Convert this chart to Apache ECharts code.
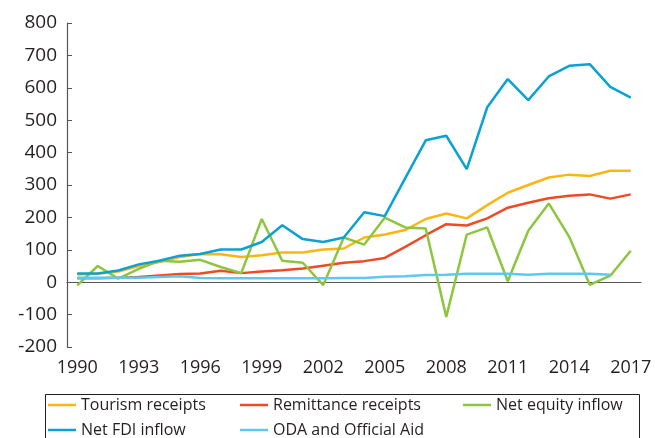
<!DOCTYPE html>
<html>
<head>
<meta charset="utf-8">
<script src="https://cdn.jsdelivr.net/npm/echarts@6/dist/echarts.min.js"></script>
<style>
html,body{margin:0;padding:0;background:#fff;}
#chart{width:655px;height:438px;}
</style>
</head>
<body>
<div id="chart"></div>
<script>
var years = ['1990','1991','1992','1993','1994','1995','1996','1997','1998','1999','2000','2001','2002','2003','2004','2005','2006','2007','2008','2009','2010','2011','2012','2013','2014','2015','2016','2017'];
var tourism = [24, 26, 33, 50, 62, 78, 87, 86, 78, 83, 92, 92, 101, 104, 138, 147, 161, 195, 212, 197, 238, 276, 300, 323, 332, 328, 344, 344];
var remittance = [12, 12, 14, 16, 21, 25, 27, 35, 28, 33, 37, 42, 51, 60, 65, 75, 109, 145, 179, 175, 197, 230, 245, 259, 267, 271, 258, 271];
var netEquity = [-10, 50, 11, 41, 66, 63, 69, 47, 28, 195, 66, 60, -9, 138, 116, 199, 169, 166, -107, 147, 169, 3, 159, 243, 140, -8, 20, 97];
var netFDI = [27, 27, 36, 55, 66, 82, 87, 101, 101, 124, 176, 133, 124, 138, 216, 204, 321, 438, 452, 349, 540, 627, 562, 635, 668, 673, 603, 570];
var oda = [14, 14, 14, 14, 16, 18, 13, 12, 12, 12, 12, 12, 12, 13, 13, 17, 18, 22, 23, 26, 26, 26, 23, 26, 26, 26, 23, null];
var yTicks = {min: -200, max: 800, interval: 100};

var names = ['Tourism receipts', 'Remittance receipts', 'Net equity inflow', 'Net FDI inflow', 'ODA and Official Aid'];
var colors = ['#fdb515', '#ef4a26', '#8cc63f', '#0aa2d2', '#5dc9f1'];
var datas = [tourism, remittance, netEquity, netFDI, oda];

var FONT = '"Open Sans"';
var TXT = '#231f20';

var chart = echarts.init(document.getElementById('chart'), null, {renderer: 'canvas'});
function legendAt(name, left, top) {
  return {
    orient: 'horizontal', left: left, top: top,
    itemWidth: 28, itemHeight: 2.5, icon: 'rect',
    textStyle: {fontFamily: FONT, fontSize: 16, color: TXT, lineHeight: 20},
    selectedMode: false, padding: 0, data: [name]
  };
}
chart.setOption({
  animation: false,
  color: colors,
  grid: {left: 67, right: 14, top: 23, bottom: 91, containLabel: false},
  xAxis: [{
    type: 'category', data: years, boundaryGap: true,
    axisLine: {onZero: true, lineStyle: {color: '#555', width: 1.2}},
    axisTick: {inside: true, length: 5, interval: 1, lineStyle: {color: '#555'}},
    axisLabel: {show: false}, splitLine: {show: false}
  }, {
    type: 'category', data: years, boundaryGap: true, position: 'bottom',
    axisLine: {show: false, onZero: false}, axisTick: {show: false},
    axisLabel: {interval: 2, fontFamily: FONT, fontSize: 18, color: TXT, margin: 12},
    splitLine: {show: false}
  }],
  yAxis: {
    type: 'value', min: yTicks.min, max: yTicks.max, interval: yTicks.interval,
    axisLine: {show: true, lineStyle: {color: '#555', width: 1.2}},
    axisTick: {show: true, inside: true, length: 5, lineStyle: {color: '#555'}},
    axisLabel: {fontFamily: FONT, fontSize: 19, color: TXT, margin: 10},
    splitLine: {show: false}
  },
  legend: [
    legendAt(names[0], 48, 395),
    legendAt(names[3], 48, 420),
    legendAt(names[1], 240, 395),
    legendAt(names[4], 240, 420),
    legendAt(names[2], 463, 395)
  ],
  graphic: [{
    type: 'rect', left: 43, top: 392,
    shape: {width: 594, height: 60},
    style: {fill: 'none', stroke: '#231f20', lineWidth: 1}
  }],
  series: names.map(function (n, i) {
    return {
      name: n, type: 'line', data: datas[i], xAxisIndex: 0,
      symbol: 'none', connectNulls: false,
      lineStyle: {width: 2.5, color: colors[i]},
      itemStyle: {color: colors[i]}
    };
  })
});
</script>
</body>
</html>
